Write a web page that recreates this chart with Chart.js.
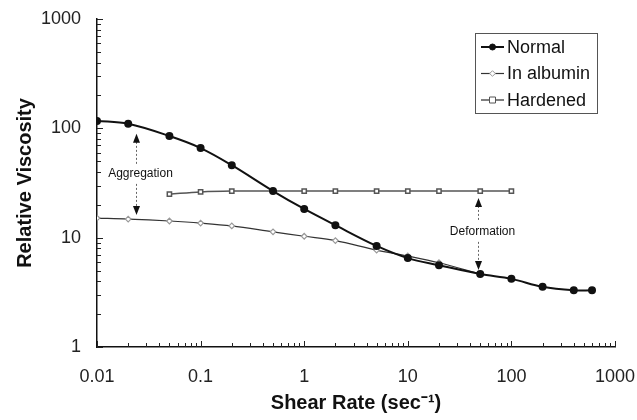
<!DOCTYPE html>
<html>
<head>
<meta charset="utf-8">
<script src="https://cdn.jsdelivr.net/npm/chart.js@4.4.3/dist/chart.umd.min.js"></script>
<style>
  html, body { margin: 0; padding: 0; background: #fff; }
  #wrap { width: 637px; height: 420px; position: relative; }
</style>
</head>
<body>
<div id="wrap"><canvas id="chart"></canvas></div>
<script>
// shear rate (sec^-1) and relative viscosity
const normalShear = [0.01, 0.02, 0.05, 0.1, 0.2, 0.5, 1, 2, 5, 10, 20, 50, 100, 200, 400, 600];
const normalVisc = [117, 110, 85, 66, 46, 26.7, 18.3, 13, 8.4, 6.5, 5.6, 4.65, 4.2, 3.55, 3.3, 3.3];

const albuminShear = [0.01, 0.02, 0.05, 0.1, 0.2, 0.5, 1, 2, 5, 10, 20, 50];
const albuminVisc = [15.1, 14.8, 14.2, 13.6, 12.8, 11.3, 10.3, 9.4, 7.7, 6.8, 5.9, 4.65];

const hardenedShear = [0.05, 0.1, 0.2, 0.5, 1, 2, 5, 10, 20, 50, 100];
const hardenedVisc = [25, 26.2, 26.7, 26.7, 26.7, 26.7, 26.7, 26.7, 26.7, 26.7, 26.7];

const seriesNames = ['Normal', 'In albumin', 'Hardened'];
const xTickLabels = ['0.01', '0.1', '1', '10', '100', '1000'];
const yTickLabels = ['1', '10', '100', '1000'];

// double arrows (in data units)
const annotations = [
    { text: 'Aggregation', x: 0.024, top: 89, bottom: 16.1, mid: 38.3 },
    { text: 'Deformation', x: 48, top: 23.1, bottom: 5.06, mid: 11.3 }
];

const FONT = 'Arial, "Liberation Sans", sans-serif';

function toPoints(xs, ys) {
    return xs.map((x, i) => ({ x: x, y: ys[i] }));
}

function logTicks(scale) {
    const lo = Math.round(Math.log10(scale.min));
    const hi = Math.round(Math.log10(scale.max));
    const ticks = [];
    for (let d = lo; d < hi; d++) {
        for (let m = 1; m <= 9; m++) {
            ticks.push({ value: m * Math.pow(10, d), major: m === 1 });
        }
    }
    ticks.push({ value: Math.pow(10, hi), major: true });
    scale.ticks = ticks;
}

function tickLabel(labels, min) {
    return function (value, index, ticks) {
        if (!ticks[index].major) return '';
        const k = Math.round(Math.log10(value) - Math.log10(min));
        return labels[k];
    };
}

// keep the plot box where the original has it; labels may overhang
function noOverhang(s) {
    s.paddingLeft = s.paddingRight = s.paddingTop = s.paddingBottom = 0;
}

// small ticks drawn inside the plot, like the original
const innerTicks = {
    id: 'innerTicks',
    afterDraw(chart) {
        const ctx = chart.ctx;
        const x = chart.scales.x, y = chart.scales.y;
        const area = chart.chartArea;
        ctx.save();
        ctx.strokeStyle = '#222';
        ctx.lineWidth = 1;
        ctx.beginPath();
        x.ticks.forEach(t => {
            const px = Math.round(x.getPixelForValue(t.value)) + 0.5;
            const len = t.major ? 6 : 4;
            ctx.moveTo(px, area.bottom);
            ctx.lineTo(px, area.bottom - len);
        });
        y.ticks.forEach(t => {
            const py = Math.round(y.getPixelForValue(t.value)) + 0.5;
            const len = t.major ? 6 : 4;
            ctx.moveTo(area.left, py);
            ctx.lineTo(area.left + len, py);
        });
        ctx.stroke();
        ctx.restore();
    }
};

function arrowHead(ctx, x, y, dir) {
    ctx.beginPath();
    ctx.moveTo(x, y);
    ctx.lineTo(x - 3.5, y - dir * 9);
    ctx.lineTo(x + 3.5, y - dir * 9);
    ctx.closePath();
    ctx.fill();
}

const arrowNotes = {
    id: 'arrowNotes',
    afterDatasetsDraw(chart) {
        const ctx = chart.ctx;
        const xs = chart.scales.x, ys = chart.scales.y;
        ctx.save();
        ctx.font = '12px ' + FONT;
        ctx.textAlign = 'center';
        ctx.textBaseline = 'middle';
        annotations.forEach(a => {
            const px = Math.round(xs.getPixelForValue(a.x)) + 0.5;
            const top = ys.getPixelForValue(a.top);
            const bot = ys.getPixelForValue(a.bottom);
            const mid = ys.getPixelForValue(a.mid);
            ctx.strokeStyle = '#666';
            ctx.lineWidth = 1;
            ctx.setLineDash([2, 2]);
            ctx.beginPath();
            ctx.moveTo(px, top + 8);
            ctx.lineTo(px, mid - 10);
            ctx.moveTo(px, mid + 10);
            ctx.lineTo(px, bot - 8);
            ctx.stroke();
            ctx.setLineDash([]);
            ctx.fillStyle = '#111';
            arrowHead(ctx, px, top, -1);
            arrowHead(ctx, px, bot, 1);
            ctx.fillText(a.text, px + 4, mid);
        });
        ctx.restore();
    }
};

// boxed legend in the upper right corner
const boxLegend = {
    id: 'boxLegend',
    afterDraw(chart) {
        const ctx = chart.ctx;
        const left = 475, top = 33, w = 122, h = 80;
        ctx.save();
        ctx.fillStyle = '#fff';
        ctx.fillRect(left, top, w, h);
        ctx.strokeStyle = '#555';
        ctx.lineWidth = 1;
        ctx.strokeRect(left + 0.5, top + 0.5, w, h);
        ctx.font = '18px ' + FONT;
        ctx.textBaseline = 'middle';
        ctx.textAlign = 'left';
        chart.data.datasets.forEach((ds, i) => {
            const cy = top + 14 + i * 26.5;
            ctx.strokeStyle = ds.borderColor;
            ctx.lineWidth = ds.borderWidth;
            ctx.beginPath();
            ctx.moveTo(left + 6, cy);
            ctx.lineTo(left + 29, cy);
            ctx.stroke();
            ctx.fillStyle = ds.pointBackgroundColor;
            ctx.strokeStyle = ds.pointBorderColor;
            ctx.lineWidth = 1;
            const r = ds.pointRadius;
            const mx = left + 17.5;
            ctx.beginPath();
            if (ds.pointStyle === 'circle') {
                ctx.arc(mx, cy, r, 0, Math.PI * 2);
            } else if (ds.pointStyle === 'rect') {
                ctx.rect(mx - r, cy - r, 2 * r, 2 * r);
            } else {
                ctx.moveTo(mx, cy - r); ctx.lineTo(mx + r, cy);
                ctx.lineTo(mx, cy + r); ctx.lineTo(mx - r, cy);
                ctx.closePath();
            }
            ctx.fill();
            ctx.stroke();
            ctx.fillStyle = '#111';
            ctx.fillText(ds.label, left + 32, cy + 1);
        });
        ctx.restore();
    }
};

new Chart(document.getElementById('chart'), {
    type: 'line',
    data: {
        datasets: [
            {
                label: seriesNames[0],
                data: toPoints(normalShear, normalVisc),
                borderColor: '#111',
                borderWidth: 2,
                pointStyle: 'circle',
                pointRadius: 3,
                pointBackgroundColor: '#111',
                pointBorderColor: '#111',
                tension: 0.35
            },
            {
                label: seriesNames[1],
                data: toPoints(albuminShear, albuminVisc),
                borderColor: '#333',
                borderWidth: 1.2,
                pointStyle: 'rectRot',
                pointRadius: 2.8,
                pointBackgroundColor: '#fff',
                pointBorderColor: '#999',
                tension: 0.35
            },
            {
                label: seriesNames[2],
                data: toPoints(hardenedShear, hardenedVisc),
                borderColor: '#555',
                borderWidth: 1.5,
                pointStyle: 'rect',
                pointRadius: 3,
                pointBackgroundColor: '#fff',
                pointBorderColor: '#555',
                tension: 0.35
            }
        ]
    },
    options: {
        responsive: true,
        maintainAspectRatio: false,
        animation: false,
        layout: { padding: { top: 19, right: 22, left: 0, bottom: 0 } },
        plugins: {
            legend: { display: false },
            tooltip: { enabled: false }
        },
        scales: {
            x: {
                type: 'logarithmic',
                min: 0.01,
                max: 1000,
                afterBuildTicks: logTicks,
                afterFit: s => { s.height = 73; noOverhang(s); },
                grid: { display: false, drawTicks: false },
                border: { display: true, color: '#111', width: 1.5 },
                ticks: {
                    autoSkip: false,
                    maxRotation: 0,
                    padding: 19,
                    color: '#222',
                    font: { size: 18, family: FONT },
                    callback: tickLabel(xTickLabels, 0.01)
                },
                title: {
                    display: true,
                    text: 'Shear Rate (sec\u207B\u00B9)',
                    color: '#111',
                    font: { size: 20, weight: 'bold', family: FONT },
                    padding: { top: 0, bottom: 5 }
                }
            },
            y: {
                type: 'logarithmic',
                min: 1,
                max: 1000,
                afterBuildTicks: logTicks,
                afterFit: s => { s.width = 97; noOverhang(s); },
                grid: { display: false, drawTicks: false },
                border: { display: true, color: '#111', width: 1.5 },
                ticks: {
                    autoSkip: false,
                    padding: 16,
                    color: '#222',
                    font: { size: 18, family: FONT },
                    callback: tickLabel(yTickLabels, 1)
                },
                title: {
                    display: true,
                    text: 'Relative Viscosity',
                    color: '#111',
                    font: { size: 20, weight: 'bold', family: FONT },
                    padding: { top: 13, bottom: 0 }
                }
            }
        }
    },
    plugins: [innerTicks, arrowNotes, boxLegend]
});
</script>
</body>
</html>
